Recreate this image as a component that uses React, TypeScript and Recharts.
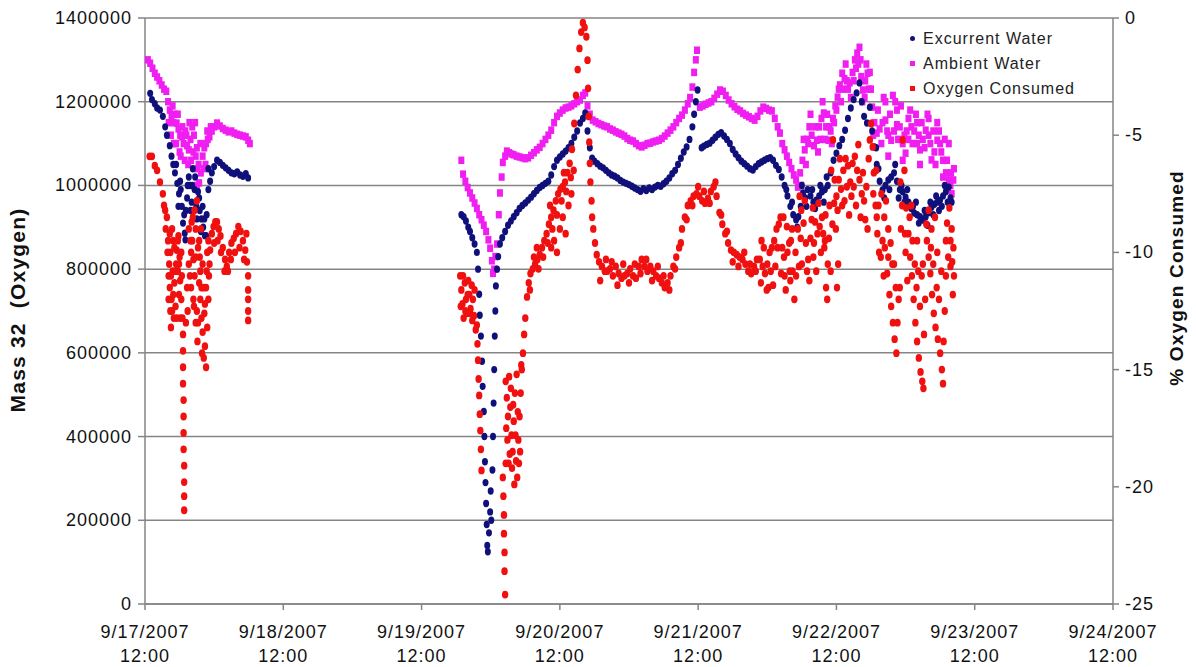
import { ScatterChart, Scatter, XAxis, YAxis, CartesianGrid } from 'recharts';

// hours after 9/17/2007 12:00, value
const excurrentWater: [number, number][] = [
    [0.9, 1220000], [1.2, 1205000], [1.7, 1195000], [2.1, 1185000], [2.6, 1180000], [3.1, 1165000], [3.5, 1140000],
    [3.8, 1120000], [4.3, 1095000], [4.6, 1070000], [4.9, 1050000], [5.2, 1030000], [5.6, 1005000], [5.9, 980000],
    [6.1, 1010000], [6.4, 950000], [6.6, 910000], [6.9, 886000], [7.1, 940000], [7.3, 970000], [7.6, 1020000],
    [7.8, 1000000], [8.1, 960000], [8.3, 1040000], [8.6, 990000], [8.9, 950000], [9.2, 985000], [9.5, 940000],
    [9.8, 920000], [10.1, 900000], [10.4, 880000], [10.7, 930000], [11.0, 990000], [11.3, 1010000], [11.6, 1030000],
    [12.0, 1045000], [12.5, 1060000], [13.0, 1055000], [13.5, 1048000], [14.0, 1042000], [14.5, 1036000],
    [15.0, 1030000], [15.5, 1028000], [16.0, 1032000], [16.5, 1025000], [17.0, 1022000], [17.5, 1028000], [17.9, 1018000],
    [5.4, 1050000], [5.8, 950000], [6.2, 990000], [6.8, 930000], [7.0, 870000], [7.4, 1000000], [7.9, 940000],
    [8.2, 1000000], [8.7, 1020000], [9.0, 920000], [9.4, 970000], [9.7, 890000], [10.0, 950000], [10.3, 920000],
    [10.6, 880000], [11.0, 1040000],
    [54.9, 930000], [55.3, 925000], [55.7, 915000], [56.1, 900000], [56.4, 890000], [56.8, 875000], [57.2, 860000],
    [57.6, 840000], [57.8, 800000], [58.0, 740000], [58.1, 690000], [58.3, 640000], [58.5, 580000], [58.6, 520000],
    [58.8, 460000], [58.9, 400000], [59.0, 340000], [59.1, 290000], [59.2, 240000], [59.3, 190000], [59.4, 140000],
    [59.5, 125000], [59.7, 170000], [59.9, 220000], [60.0, 270000], [60.1, 200000], [60.3, 320000], [60.4, 400000],
    [60.5, 480000], [60.6, 560000], [60.7, 640000], [60.8, 700000], [60.9, 760000], [61.1, 800000], [61.3, 830000],
    [61.6, 860000], [62.0, 875000], [62.5, 890000], [63.0, 905000], [63.5, 915000], [64.0, 925000], [64.5, 935000],
    [65.0, 945000], [65.5, 952000], [66.0, 958000], [66.5, 965000], [67.0, 972000], [67.5, 980000], [68.0, 988000],
    [68.5, 995000], [69.0, 1000000], [69.5, 1005000], [70.0, 1010000], [70.5, 1025000], [71.0, 1045000],
    [71.5, 1060000], [72.0, 1068000], [72.5, 1075000], [73.0, 1082000], [73.5, 1090000], [74.0, 1100000],
    [74.5, 1115000], [75.0, 1130000], [75.5, 1149000], [76.0, 1160000], [76.4, 1173000], [76.8, 1130000],
    [77.2, 1090000], [77.6, 1065000], [78.0, 1058000], [78.5, 1052000], [79.0, 1046000], [79.5, 1042000],
    [80.0, 1036000], [80.5, 1030000], [81.0, 1025000], [81.5, 1022000], [82.0, 1018000], [82.5, 1012000],
    [83.0, 1008000], [83.5, 1005000], [84.0, 1002000], [84.5, 998000], [85.0, 994000], [85.5, 990000],
    [86.0, 986000], [86.5, 992000], [87.0, 988000], [87.5, 994000], [88.0, 990000], [88.5, 996000], [89.0, 1000000],
    [89.5, 998000], [90.0, 1004000], [90.5, 1010000], [91.0, 1018000], [91.5, 1028000], [92.0, 1036000],
    [92.5, 1050000], [93.0, 1065000], [93.5, 1080000], [94.0, 1092000], [94.5, 1110000], [95.0, 1140000],
    [95.3, 1170000], [95.6, 1200000], [95.9, 1228000],
    [96.6, 1090000], [97.0, 1094000], [97.5, 1098000], [98.0, 1101000], [98.5, 1108000], [99.0, 1115000],
    [99.5, 1122000], [100.0, 1126000], [100.5, 1118000], [101.0, 1110000], [101.5, 1100000], [102.0, 1086000],
    [102.5, 1075000], [103.0, 1066000], [103.5, 1058000], [104.0, 1052000], [104.5, 1046000], [105.0, 1040000],
    [105.5, 1037000], [106.0, 1045000], [106.5, 1052000], [107.0, 1056000], [107.5, 1060000], [108.0, 1064000],
    [108.5, 1066000], [109.0, 1060000], [109.5, 1048000], [110.0, 1038000], [110.5, 1020000], [111.0, 1000000],
    [111.5, 975000], [112.0, 950000], [112.5, 930000], [113.0, 918000], [113.4, 925000], [113.8, 950000],
    [114.2, 982000], [114.6, 970000], [115.0, 990000], [115.5, 975000], [116.0, 960000], [116.5, 965000],
    [117.0, 975000], [117.5, 985000], [118.0, 990000], [118.5, 1000000], [119.0, 1030000], [119.5, 1060000],
    [120.0, 1077000], [120.5, 1095000], [121.0, 1110000], [121.5, 1132000], [122.0, 1160000], [122.5, 1185000],
    [123.0, 1205000], [123.5, 1221000], [124.0, 1245000], [124.4, 1200000], [124.8, 1165000], [125.3, 1149000],
    [125.8, 1187000], [126.2, 1130000], [126.6, 1092000], [127.0, 1050000], [127.5, 1010000], [128.0, 989000],
    [128.5, 1000000], [129.0, 1013000], [129.5, 1020000], [130.0, 1030000], [130.5, 1010000], [131.0, 990000],
    [131.5, 985000], [132.0, 972000], [132.5, 960000], [133.0, 945000], [133.5, 934000], [134.0, 930000],
    [134.5, 925000], [135.0, 917000], [135.5, 925000], [136.0, 935000], [136.5, 948000], [137.0, 955000],
    [137.5, 960000], [138.0, 965000], [138.5, 975000], [139.0, 985000], [139.5, 996000], [140.0, 960000],
    [111.3, 990000], [112.3, 960000], [113.2, 900000], [114.0, 1000000], [114.8, 950000], [115.8, 990000],
    [116.3, 945000], [117.2, 1000000], [117.8, 960000], [118.3, 1020000],
    [126.9, 1090000], [127.3, 1040000], [128.3, 970000], [129.2, 990000], [130.2, 1050000], [130.8, 970000],
    [131.3, 1000000], [131.8, 960000], [132.3, 990000], [133.3, 950000], [133.8, 960000], [134.3, 910000],
    [135.3, 940000], [135.8, 905000], [136.3, 960000], [136.8, 930000], [137.3, 975000], [137.8, 940000],
    [138.3, 950000], [138.8, 1000000], [139.3, 960000], [139.8, 970000],
];

const ambientWater: [number, number][] = [
    [0.5, 1300000], [0.9, 1292000], [1.3, 1280000], [1.7, 1268000], [2.1, 1259000], [2.5, 1250000], [2.9, 1240000],
    [3.3, 1230000], [3.7, 1225000], [4.0, 1200000], [4.3, 1180000], [4.6, 1165000], [4.9, 1150000], [5.2, 1170000],
    [5.5, 1149000], [5.8, 1135000], [6.1, 1120000], [6.4, 1116000], [6.7, 1100000], [7.0, 1130000], [7.3, 1095000],
    [7.6, 1085000], [7.9, 1110000], [8.2, 1140000], [8.5, 1120000], [8.8, 1070000], [9.1, 1040000], [9.4, 1006000],
    [9.7, 1030000], [10.0, 1070000], [10.3, 1090000], [10.6, 1100000], [10.9, 1110000], [11.2, 1116000],
    [11.6, 1130000], [12.0, 1140000], [12.5, 1149000], [13.0, 1142000], [13.5, 1136000], [14.0, 1132000],
    [14.5, 1128000], [15.0, 1130000], [15.5, 1125000], [16.0, 1122000], [16.5, 1120000], [17.0, 1118000],
    [17.5, 1116000], [17.9, 1108000], [18.2, 1100000],
    [5.0, 1100000], [6.0, 1080000], [7.5, 1050000], [8.0, 1060000], [9.0, 1000000], [10.5, 1050000],
    [4.1, 1150000], [4.5, 1120000], [4.8, 1190000], [5.4, 1100000], [5.7, 1170000], [6.2, 1070000], [6.5, 1140000],
    [6.9, 1060000], [7.2, 1120000], [7.7, 1150000], [8.4, 1080000], [8.7, 1150000], [9.0, 1090000], [9.3, 1050000],
    [9.6, 1100000], [10.2, 1040000], [10.8, 1130000], [11.4, 1140000],
    [54.9, 1060000], [55.2, 1027000], [55.6, 1010000], [56.0, 995000], [56.4, 982000], [56.8, 970000],
    [57.2, 958000], [57.6, 945000], [58.0, 930000], [58.4, 918000], [58.8, 905000], [59.2, 890000], [59.6, 870000],
    [59.9, 850000], [60.2, 820000], [60.4, 790000], [60.6, 800000], [60.8, 830000], [61.1, 860000], [61.4, 930000],
    [61.6, 982000], [61.9, 1020000], [62.1, 1055000], [62.5, 1070000], [62.8, 1082000], [63.2, 1078000],
    [63.6, 1075000], [64.0, 1073000], [64.5, 1070000], [65.0, 1068000], [65.5, 1066000], [66.0, 1064000],
    [66.5, 1066000], [67.0, 1072000], [67.5, 1078000], [68.0, 1085000], [68.5, 1091000], [69.0, 1100000],
    [69.5, 1110000], [70.0, 1120000], [70.5, 1132000], [71.0, 1150000], [71.5, 1165000], [72.0, 1173000],
    [72.5, 1180000], [73.0, 1185000], [73.5, 1187000], [74.0, 1190000], [74.5, 1195000], [75.0, 1200000],
    [75.5, 1204000], [76.0, 1215000], [76.4, 1221000], [76.8, 1190000], [77.2, 1170000], [77.7, 1156000],
    [78.2, 1152000], [78.7, 1148000], [79.2, 1145000], [79.7, 1142000], [80.2, 1140000], [80.7, 1135000],
    [81.2, 1132000], [81.7, 1128000], [82.2, 1125000], [82.7, 1122000], [83.2, 1118000], [83.7, 1112000],
    [84.2, 1108000], [84.7, 1106000], [85.2, 1100000], [85.7, 1095000], [86.2, 1092000], [86.7, 1096000],
    [87.2, 1100000], [87.7, 1101000], [88.2, 1104000], [88.7, 1106000], [89.2, 1108000], [89.7, 1112000],
    [90.2, 1118000], [90.7, 1125000], [91.2, 1132000], [91.7, 1140000], [92.2, 1150000], [92.7, 1160000],
    [93.2, 1168000], [93.7, 1180000], [94.2, 1195000], [94.6, 1210000], [95.0, 1235000], [95.3, 1270000],
    [95.6, 1300000], [95.8, 1323000],
    [96.3, 1187000], [96.8, 1190000], [97.3, 1194000], [97.8, 1197000], [98.3, 1200000], [98.8, 1208000],
    [99.3, 1218000], [99.8, 1228000], [100.3, 1225000], [100.8, 1215000], [101.3, 1204000], [101.8, 1195000],
    [102.3, 1188000], [102.8, 1182000], [103.3, 1178000], [103.8, 1172000], [104.3, 1168000], [104.8, 1164000],
    [105.3, 1160000], [105.8, 1156000], [106.3, 1165000], [106.8, 1178000], [107.3, 1187000], [107.8, 1184000],
    [108.3, 1180000], [108.8, 1178000], [109.3, 1160000], [109.8, 1140000], [110.2, 1125000], [110.6, 1100000],
    [111.0, 1085000], [111.4, 1070000], [111.8, 1055000], [112.2, 1040000], [112.6, 1025000], [113.0, 1013000],
    [113.3, 996000], [113.7, 1030000], [114.1, 1060000], [114.5, 1085000], [114.9, 1110000], [115.3, 1140000],
    [115.7, 1120000], [116.1, 1095000], [116.6, 1108000], [117.0, 1140000], [117.4, 1160000], [117.8, 1173000],
    [118.2, 1140000], [118.6, 1108000], [119.0, 1130000], [119.4, 1160000], [119.8, 1190000], [120.2, 1211000],
    [120.6, 1240000], [121.0, 1268000], [121.4, 1255000], [121.8, 1250000], [122.3, 1245000], [122.8, 1270000],
    [123.2, 1300000], [123.6, 1316000], [124.0, 1330000], [124.3, 1260000], [124.6, 1228000], [125.0, 1250000],
    [125.4, 1268000], [125.8, 1270000], [126.2, 1187000], [126.6, 1150000], [127.0, 1125000], [127.5, 1135000],
    [128.0, 1150000], [128.5, 1156000], [129.0, 1120000], [129.5, 1108000], [130.0, 1130000], [130.5, 1145000],
    [131.0, 1140000], [131.5, 1100000], [132.0, 1077000], [132.5, 1110000], [133.0, 1140000], [133.5, 1130000],
    [134.0, 1100000], [134.5, 1085000], [135.0, 1110000], [135.5, 1132000], [136.0, 1120000], [136.5, 1061000],
    [137.0, 1080000], [137.5, 1108000], [138.0, 1100000], [138.5, 1060000], [139.0, 1030000], [139.5, 1013000],
    [139.9, 1030000], [140.3, 1013000],
    [128.5, 1200000], [129.8, 1215000], [130.2, 1200000], [130.5, 1180000], [132.5, 1160000], [134.0, 1150000],
    [136.0, 1160000], [137.5, 1150000], [139.5, 1100000], [129.0, 1070000], [131.5, 1060000], [134.5, 1050000],
    [138.5, 1020000], [140.0, 980000],
    [126.0, 1230000], [126.4, 1120000], [127.2, 1180000], [127.8, 1100000], [128.2, 1210000], [128.8, 1130000],
    [129.3, 1170000], [130.7, 1110000], [131.2, 1190000], [131.8, 1120000], [132.2, 1130000], [132.8, 1180000],
    [133.2, 1100000], [133.8, 1170000], [134.3, 1120000], [134.8, 1150000], [135.3, 1090000], [135.8, 1170000],
    [136.3, 1100000], [136.8, 1130000], [137.2, 1050000], [137.8, 1130000], [138.2, 1080000], [138.8, 1110000],
    [139.2, 1060000], [139.8, 1000000], [140.4, 1040000],
    [113.9, 1000000], [114.3, 1110000], [114.7, 1050000], [115.1, 1100000], [115.5, 1170000], [116.3, 1140000],
    [116.8, 1080000], [117.2, 1110000], [117.6, 1200000], [118.0, 1110000], [118.4, 1170000], [118.8, 1140000],
    [119.2, 1100000], [119.6, 1150000], [120.0, 1180000], [120.4, 1230000], [120.8, 1200000], [121.2, 1230000],
    [121.6, 1290000], [122.0, 1230000], [122.5, 1210000], [123.0, 1250000], [123.4, 1280000], [123.8, 1290000],
    [124.2, 1300000], [124.5, 1200000], [124.9, 1210000], [125.2, 1290000], [125.6, 1230000],
];

// % oxygen consumed (right axis)
const oxygenConsumed: [number, number][] = [
    [0.8, -5.9], [1.2, -5.9], [1.7, -6.3], [2.1, -6.5], [2.6, -7.0], [3.1, -7.5], [3.5, -8.2], [3.8, -8.5],
    [4.0, -9.5], [4.2, -10.5], [4.3, -11.5], [4.4, -12.5], [4.5, -13.2], [4.6, -12.0], [4.8, -10.8], [4.9, -9.5],
    [5.1, -11.3], [5.3, -12.3], [5.5, -9.9], [5.7, -10.8], [5.9, -11.8], [6.1, -12.8], [6.3, -12.0], [6.5, -12.8],
    [6.6, -13.5], [6.6, -14.2], [6.6, -14.9], [6.6, -15.6], [6.7, -16.3], [6.7, -17.0], [6.7, -17.7], [6.7, -18.4],
    [6.8, -19.1], [6.8, -19.8], [6.8, -20.4], [6.8, -21.0], [7.1, -13.0], [7.3, -11.5], [7.6, -10.5], [7.9, -9.5],
    [8.1, -8.7], [8.3, -8.5], [8.6, -8.2], [8.8, -9.0], [9.0, -7.8], [9.2, -9.8], [9.4, -11.3], [9.6, -12.0],
    [9.8, -12.8], [10.0, -13.4], [10.2, -11.5], [10.4, -14.0], [10.6, -14.9], [10.8, -13.2], [11.0, -12.0],
    [11.3, -9.9], [11.6, -9.2], [11.9, -8.9], [12.2, -8.7], [12.5, -8.7], [12.8, -9.0], [13.1, -9.3], [13.5, -9.8],
    [13.9, -10.3], [14.2, -10.6], [14.6, -10.0], [15.0, -9.6], [15.4, -9.4], [15.8, -9.2], [16.2, -8.9],
    [16.6, -9.1], [17.0, -9.5], [17.4, -9.9], [17.7, -10.4], [17.9, -11.0], [17.9, -11.6], [17.9, -12.0],
    [17.9, -12.5], [17.9, -12.9],
    [4.7, -9.0], [5.0, -12.8], [5.4, -10.5], [5.8, -9.3], [6.0, -10.2], [4.1, -11.0], [4.4, -10.0],
    [8.0, -11.5], [8.5, -12.3], [8.8, -13.0], [9.1, -13.8], [9.5, -10.2], [9.9, -14.3], [10.3, -12.6],
    [10.7, -10.8], [11.1, -11.0], [9.7, -9.0], [8.4, -10.3],
    [3.3, -8.0], [3.6, -9.0], [3.9, -10.0], [4.1, -12.0], [4.3, -9.2], [4.5, -11.0], [4.7, -12.5], [4.9, -11.8],
    [5.1, -9.8], [5.3, -10.8], [5.5, -12.8], [5.7, -9.5], [5.9, -10.5], [6.1, -11.2], [6.3, -10.0], [6.4, -11.0],
    [7.4, -12.5], [7.6, -9.0], [7.8, -11.0], [8.0, -10.0], [8.2, -9.5], [8.4, -12.0], [8.6, -11.0], [8.8, -10.2],
    [9.0, -12.5], [9.2, -13.0], [9.4, -9.5], [9.6, -10.8], [9.8, -11.5], [10.0, -10.5], [10.2, -14.5],
    [10.4, -12.2], [10.6, -11.5], [10.8, -10.0], [11.0, -9.5], [11.2, -10.5],
    [12.0, -9.6], [12.6, -9.5], [13.2, -10.0], [13.8, -10.8], [14.4, -10.8], [14.9, -10.3], [15.6, -10.0],
    [16.4, -9.8], [17.2, -10.3], [17.6, -9.2],
    [54.7, -11.0], [54.9, -11.6], [55.1, -12.2], [55.3, -12.8], [55.5, -11.3], [55.7, -12.0], [55.9, -12.6],
    [56.1, -11.2], [56.3, -11.8], [56.5, -12.4], [56.7, -11.4], [56.9, -12.0], [57.1, -12.7], [57.4, -13.3],
    [54.8, -12.3], [55.2, -11.0], [55.6, -12.5], [56.0, -11.8], [56.4, -12.6], [56.8, -12.9], [57.2, -11.6],
    [57.6, -13.1], [57.7, -13.9], [57.8, -14.6], [57.9, -15.4], [58.0, -16.1], [58.1, -16.9], [58.2, -17.6],
    [58.3, -18.4], [58.4, -19.3],
    [62.1, -19.6], [62.2, -20.4], [62.3, -21.2], [62.3, -22.0], [62.4, -22.8], [62.4, -23.6], [62.5, -24.6],
    [62.6, -15.5], [62.8, -16.2], [63.0, -17.0], [63.2, -15.3], [63.4, -16.6], [63.6, -17.8], [63.8, -18.5],
    [64.0, -17.2], [64.2, -16.0], [64.4, -18.9], [64.6, -19.6], [64.8, -18.0], [65.0, -17.0], [65.2, -16.0],
    [62.9, -18.0], [63.3, -18.6], [63.7, -19.2], [64.1, -19.9], [64.5, -15.2],
    [62.7, -17.5], [63.1, -19.0], [63.5, -15.8], [63.9, -16.5], [64.3, -17.8], [64.7, -16.8], [65.1, -18.5],
    [65.3, -14.8], [64.9, -19.0], [62.6, -19.0],
    [65.4, -15.0], [65.6, -14.3], [65.8, -13.5], [66.0, -12.8], [66.3, -11.9], [66.6, -11.3], [66.9, -10.9],
    [67.3, -10.7], [67.7, -10.5], [68.1, -10.3], [68.5, -10.1], [68.9, -9.8], [69.3, -9.5], [69.7, -9.2],
    [70.1, -8.8], [70.5, -8.5], [70.9, -8.2], [71.3, -7.8], [71.7, -7.5], [72.1, -7.3], [72.5, -7.2], [72.9, -7.0],
    [73.3, -6.6], [73.7, -6.2], [74.1, -5.6], [74.5, -4.5], [74.8, -3.3], [75.1, -2.2], [75.4, -1.3], [75.7, -0.6],
    [76.0, -0.2], [76.3, -0.4], [76.6, -0.8], [76.8, -1.8], [76.9, -3.0], [77.0, -4.2], [77.1, -5.3], [77.2, -6.2],
    [77.3, -7.0], [77.5, -7.8], [77.6, -8.5], [77.8, -9.0], [78.1, -9.6], [78.4, -10.1], [78.8, -10.4],
    [66.8, -11.6], [67.5, -10.2], [68.3, -10.7], [69.1, -10.2], [69.9, -9.6], [70.7, -9.0], [71.5, -8.4],
    [72.3, -7.8], [73.1, -7.4], [73.9, -6.8], [68.0, -9.8], [70.3, -8.0], [72.7, -6.6],
    [70.5, -9.8], [71.0, -9.5], [71.5, -10.0], [72.0, -9.0], [72.5, -8.5], [73.0, -9.2], [73.5, -8.0],
    [74.0, -7.5], [74.4, -6.5],
    [79.3, -10.6], [79.8, -10.8], [80.2, -10.8], [80.7, -10.7], [81.2, -11.0], [81.7, -10.6], [82.2, -10.9],
    [82.7, -11.1], [83.2, -11.0], [83.7, -10.9], [84.2, -10.7], [84.7, -11.0], [85.2, -11.1], [85.7, -10.6],
    [86.2, -10.3], [86.7, -10.6], [87.2, -10.8], [87.7, -10.6], [88.2, -10.8], [88.7, -11.0], [89.2, -11.1],
    [89.7, -11.3], [90.2, -11.5], [90.7, -11.3], [91.2, -11.0], [91.7, -10.6], [92.2, -10.2], [92.7, -9.8],
    [93.2, -9.0], [93.7, -8.5], [94.2, -8.0], [94.7, -7.8], [95.2, -7.6], [95.7, -7.5], [96.2, -7.6], [96.7, -7.8],
    [97.2, -7.9], [97.7, -7.7], [98.2, -7.4], [98.7, -7.2], [99.2, -7.6], [99.7, -8.3], [100.2, -8.8],
    [100.7, -9.2], [101.2, -9.6], [101.7, -9.9], [102.2, -10.0], [102.7, -10.1], [103.2, -10.2], [103.7, -10.3],
    [104.2, -10.5], [104.7, -10.8], [105.2, -10.9], [105.7, -10.6], [106.2, -10.3], [106.7, -10.3],
    [79.0, -11.2], [80.0, -10.3], [81.0, -10.4], [82.0, -11.4], [83.0, -10.5], [84.0, -11.3], [85.0, -10.5],
    [86.0, -10.9], [87.0, -10.3], [88.0, -11.2], [89.0, -10.6], [90.0, -11.0], [91.0, -11.6], [92.0, -10.7],
    [93.0, -9.6], [94.0, -8.6], [95.0, -8.0], [96.0, -7.2], [97.0, -7.4], [98.0, -7.9], [99.0, -7.0],
    [100.0, -8.4], [101.0, -9.1], [102.0, -10.4], [103.0, -10.6], [104.0, -10.0], [105.0, -10.5], [106.0, -10.8],
    [107.2, -10.6], [107.6, -10.9], [108.0, -10.5], [108.4, -10.0], [108.8, -9.8], [109.2, -9.5], [109.6, -9.0],
    [110.0, -8.8], [110.3, -8.5], [110.6, -9.8], [110.9, -10.2], [111.2, -11.6], [111.5, -10.0], [111.8, -9.6],
    [112.1, -9.5], [112.4, -10.8], [112.7, -12.0], [113.0, -11.0], [113.3, -9.0], [113.6, -7.6], [113.9, -8.2],
    [114.3, -8.75], [114.7, -9.6], [115.1, -10.3], [115.5, -9.4], [115.9, -8.1], [116.3, -8.7], [116.7, -9.2],
    [117.1, -8.9], [117.5, -8.5], [117.9, -9.8], [118.2, -11.5], [118.5, -10.5], [118.8, -8.0], [119.1, -6.5],
    [107.0, -9.5], [108.2, -11.5], [109.0, -11.4], [110.8, -8.5], [112.0, -11.2], [114.0, -10.5], [115.3, -11.2],
    [116.0, -10.2], [117.3, -10.0], [118.0, -9.5], [118.4, -12.0],
    [106.9, -11.3], [107.4, -9.8], [107.9, -11.6], [108.6, -10.8], [109.4, -10.6], [109.8, -9.8], [110.4, -10.9],
    [111.0, -11.0], [111.4, -8.9], [111.9, -10.8], [112.3, -9.0], [112.9, -10.0], [113.5, -10.6], [113.8, -9.4],
    [114.5, -7.8], [114.9, -10.8], [115.7, -8.6], [116.1, -9.6], [116.5, -10.8], [116.9, -7.9], [117.7, -9.2],
    [118.1, -8.4], [118.7, -9.4], [119.0, -10.8], [119.3, -8.8], [119.6, -7.9],
    [119.4, -5.2], [119.7, -6.9], [120.0, -7.6], [120.4, -6.9], [120.8, -7.3], [121.2, -6.5], [121.6, -6.0],
    [122.0, -6.3], [122.4, -7.0], [122.8, -6.2], [123.2, -5.9], [123.6, -6.5], [124.0, -6.9], [124.4, -7.5],
    [124.8, -7.8], [125.2, -7.2], [125.6, -6.0], [126.0, -4.5], [126.3, -5.5], [126.5, -6.6], [126.8, -8.0],
    [119.9, -9.0], [120.2, -8.2], [120.6, -6.0], [121.0, -8.0], [121.4, -7.8], [121.8, -7.2], [122.2, -8.4],
    [122.6, -7.6], [123.0, -7.2], [123.4, -8.0], [123.8, -5.4], [124.2, -8.5], [124.6, -6.6], [125.0, -8.6],
    [125.4, -9.0], [125.8, -5.2], [120.3, -10.5], [120.1, -11.5],
    [127.1, -9.2], [127.4, -10.0], [127.7, -10.2], [128.0, -9.5], [128.4, -9.8], [128.8, -10.9], [129.2, -11.8],
    [129.5, -12.3], [129.8, -13.0], [130.1, -13.7], [130.4, -14.3], [130.8, -12.0], [131.2, -9.0], [131.5, -5.2],
    [131.8, -6.5], [132.1, -8.1], [132.5, -9.2], [132.8, -10.2], [133.1, -11.0], [133.4, -12.0], [133.7, -13.0],
    [134.0, -13.8], [134.3, -14.5], [134.6, -15.1], [134.9, -15.5], [135.1, -15.8], [135.4, -12.0], [135.7, -9.5],
    [136.0, -10.2], [136.3, -10.9], [136.6, -11.8], [136.9, -12.6], [137.2, -13.2], [137.6, -13.7], [138.0, -14.3],
    [138.3, -15.0], [138.5, -15.6], [138.8, -12.5], [139.2, -8.75], [139.6, -8.1], [140.0, -9.0], [140.3, -9.8],
    [127.0, -8.5], [128.2, -11.0], [129.0, -9.0], [130.0, -10.5], [131.0, -11.5], [132.0, -10.0], [133.0, -8.0],
    [134.0, -9.5], [135.0, -10.5], [136.5, -9.0], [137.5, -10.0], [139.0, -11.0], [139.8, -10.6], [140.2, -11.8],
    [126.4, -7.5], [126.9, -6.5], [127.3, -8.0], [127.8, -7.5], [128.3, -8.5], [128.6, -7.8], [129.0, -10.2],
    [129.4, -9.6], [129.7, -10.5], [130.3, -11.5], [130.6, -13.0], [131.1, -7.0], [131.4, -8.0], [131.9, -9.2],
    [132.3, -11.2], [132.7, -8.5], [133.2, -9.5], [133.6, -10.5], [133.9, -11.5], [134.2, -10.8], [134.5, -12.3],
    [134.8, -11.0], [135.2, -13.5], [135.6, -8.8], [136.0, -8.2], [136.4, -9.8], [136.8, -10.5], [137.1, -8.5],
    [137.4, -11.5], [137.8, -12.0], [138.2, -10.8], [138.6, -13.8], [139.0, -9.5], [139.4, -10.2], [139.8, -9.5],
    [140.1, -10.4], [140.4, -11.0],
];

const dayTicks = [0, 24, 48, 72, 96, 120, 144, 168];
const dayLabels = ['9/17/2007', '9/18/2007', '9/19/2007', '9/20/2007', '9/21/2007', '9/22/2007', '9/23/2007', '9/24/2007'];
const massTicks = [0, 200000, 400000, 600000, 800000, 1000000, 1200000, 1400000];
const pctTicks = [-25, -20, -15, -10, -5, 0];

const legendItems = [
    { name: 'Excurrent Water', color: '#10107a', square: false },
    { name: 'Ambient Water', color: '#f01ef0', square: true },
    { name: 'Oxygen Consumed', color: '#f01010', square: true },
];

const toRows = (pts: [number, number][]) => pts.map(([h, v]) => ({ h, v }));

const font = '"Liberation Sans", Arial, sans-serif';
const axisGray = '#858585';

const DayTick = (props: any) => {
    const { x, y, payload } = props;
    const i = dayTicks.indexOf(payload.value);
    return (
        <g>
            <text x={x} y={y + 26} textAnchor="middle" fontSize={18} letterSpacing={1} fill="#111" fontFamily={font}>{dayLabels[i]}</text>
            <text x={x} y={y + 50} textAnchor="middle" fontSize={18} letterSpacing={1} fill="#111" fontFamily={font}>12:00</text>
        </g>
    );
};

const MassTick = (props: any) => (
    <text x={props.x - 4} y={props.y + 6} textAnchor="end" fontSize={18} letterSpacing={1} fill="#111" fontFamily={font}>
        {props.payload.value}
    </text>
);

const PctTick = (props: any) => (
    <text x={props.x + 4} y={props.y + 6} textAnchor="start" fontSize={18} letterSpacing={1} fill="#111" fontFamily={font}>
        {props.payload.value}
    </text>
);

const dot = (color: string, rx: number, ry: number) => (p: any) => <ellipse cx={p.cx} cy={p.cy} rx={rx} ry={ry} fill={color} />;
const box = (color: string, w: number, h: number) => (p: any) => <rect x={p.cx - w / 2} y={p.cy - h / 2} width={w} height={h} fill={color} />;

export default function App() {
    return (
        <div style={{ position: 'relative', width: 1180, height: 659, fontFamily: font }}>
            <ScatterChart width={1180} height={659} margin={{ top: 10, right: 0, bottom: 0, left: 0 }}>
                <CartesianGrid yAxisId="left" vertical={false} stroke={axisGray} strokeWidth={1.5} />
                <XAxis
                    type="number"
                    dataKey="h"
                    domain={[0, 168]}
                    ticks={dayTicks}
                    height={63}
                    tick={<DayTick />}
                    tickSize={6}
                    stroke={axisGray}
                    strokeWidth={1.5}
                    interval={0}
                />
                <YAxis
                    yAxisId="left"
                    type="number"
                    dataKey="v"
                    domain={[0, 1400000]}
                    ticks={massTicks}
                    width={137}
                    tick={<MassTick />}
                    tickSize={7}
                    stroke={axisGray}
                    strokeWidth={1.5}
                    interval={0}
                />
                <YAxis
                    yAxisId="right"
                    orientation="right"
                    type="number"
                    dataKey="v"
                    domain={[-25, 0]}
                    ticks={pctTicks}
                    width={75}
                    tick={<PctTick />}
                    tickSize={6}
                    stroke={axisGray}
                    strokeWidth={1.5}
                    interval={0}
                />
                <Scatter yAxisId="left" data={toRows(ambientWater)} shape={box('#f01ef0', 6, 7.5)} isAnimationActive={false} />
                <Scatter yAxisId="left" data={toRows(excurrentWater)} shape={dot('#10107a', 3, 3.7)} isAnimationActive={false} />
                <Scatter yAxisId="right" data={toRows(oxygenConsumed)} shape={dot('#f01010', 3.2, 3.9)} isAnimationActive={false} />
            </ScatterChart>

            <div style={{ position: 'absolute', left: -140, top: 290, width: 300, height: 24, lineHeight: '24px', textAlign: 'center', transform: 'rotate(-90deg)', fontSize: 21, fontWeight: 'bold', letterSpacing: 1.2, whiteSpace: 'pre', color: '#111' }}>
                Mass 32  (Oxygen)
            </div>
            <div style={{ position: 'absolute', left: 1019, top: 258, width: 300, height: 24, lineHeight: '24px', textAlign: 'center', transform: 'rotate(-90deg)', fontSize: 19, fontWeight: 'bold', letterSpacing: 1.2, whiteSpace: 'pre', color: '#111' }}>
                % Oxygen Consumed
            </div>

            <div style={{ position: 'absolute', left: 902, top: 18, fontSize: 16, letterSpacing: 1, color: '#222' }}>
                {legendItems.map((it) => (
                    <div key={it.name} style={{ display: 'flex', alignItems: 'center', height: 25 }}>
                        <span style={{ display: 'inline-block', width: 5, height: 5, borderRadius: it.square ? 0 : 3, background: it.color, marginRight: 8 }} />
                        {it.name}
                    </div>
                ))}
            </div>
        </div>
    );
}
